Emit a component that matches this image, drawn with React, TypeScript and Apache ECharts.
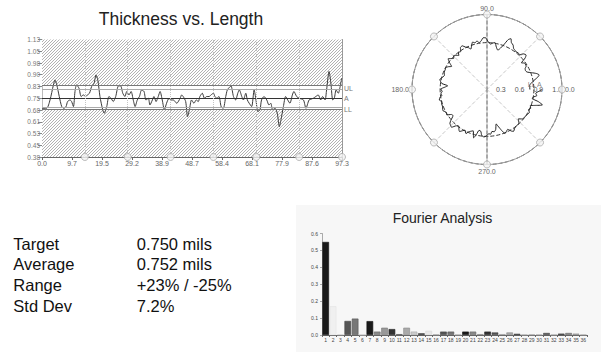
import React, { useEffect, useRef } from "react";
import * as echarts from "echarts";

const FONT = "'Liberation Sans', Arial, sans-serif";

// ---- Thickness vs. Length ----
const thickX = [
  0, 1.5, 2.6, 3.7, 4.2, 4.8, 5.6, 6.4, 7.1, 7.8, 8.3, 9.1, 9.6, 10.2, 10.7, 11.2, 12.0, 12.7, 13.4, 14.2,
  14.7, 15.4, 16.1, 16.9, 17.5, 18.1, 18.8, 19.7, 20.2, 21.0, 21.7, 22.4, 23.1, 23.9, 24.8, 25.5, 26.2, 26.9,
  27.5, 28.2, 28.9, 29.6, 30.2, 30.9, 31.6, 32.3, 33.1, 33.7, 34.5, 35.0, 35.8, 36.3, 37.0, 37.7, 38.3, 39.0,
  39.7, 40.4, 41.2, 41.8, 42.6, 43.7, 44.8, 45.3, 45.8, 46.6, 47.2, 47.8, 48.5, 49.3, 50.0, 50.7, 51.2, 52.0,
  52.7, 53.4, 54.2, 54.8, 55.6, 56.1, 56.7, 57.4, 58.1, 58.8, 59.6, 60.1, 60.8, 61.3, 62.1, 62.8, 63.5, 64.0,
  64.8, 65.3, 66.1, 66.6, 67.2, 68.0, 68.8, 69.4, 70.0, 70.7, 71.2, 72.0, 72.9, 73.6, 74.2, 74.8, 75.6, 76.3,
  77.0, 77.5, 78.3, 79.0, 79.7, 80.4, 81.2, 81.7, 82.6, 83.4, 84.8, 85.6, 86.6, 87.2, 88.0, 88.8, 89.6, 90.4,
  91.0, 91.8, 92.3, 93.1, 93.7, 94.3, 94.8, 95.4, 96.1, 96.7, 97.2,
];
const thickY = [
  0.686, 0.686, 0.739, 0.835, 0.867, 0.835, 0.761, 0.697, 0.686, 0.697, 0.729, 0.739, 0.729, 0.697, 0.793,
  0.835, 0.814, 0.761, 0.771, 0.761, 0.771, 0.782, 0.825, 0.846, 0.899, 0.867, 0.761, 0.676, 0.654, 0.697,
  0.761, 0.75, 0.729, 0.761, 0.829, 0.829, 0.782, 0.761, 0.793, 0.771, 0.793, 0.739, 0.697, 0.739, 0.761,
  0.803, 0.793, 0.739, 0.75, 0.707, 0.739, 0.761, 0.729, 0.761, 0.793, 0.739, 0.676, 0.718, 0.75, 0.739,
  0.739, 0.718, 0.75, 0.771, 0.761, 0.729, 0.633, 0.676, 0.739, 0.718, 0.739, 0.729, 0.761, 0.782, 0.75,
  0.761, 0.761, 0.771, 0.782, 0.761, 0.75, 0.761, 0.697, 0.686, 0.761, 0.803, 0.82, 0.829, 0.761, 0.739,
  0.782, 0.803, 0.761, 0.739, 0.782, 0.739, 0.718, 0.697, 0.803, 0.739, 0.665, 0.676, 0.739, 0.761, 0.739,
  0.707, 0.718, 0.676, 0.686, 0.654, 0.569, 0.612, 0.697, 0.761, 0.739, 0.718, 0.771, 0.793, 0.761, 0.75,
  0.739, 0.686, 0.739, 0.744, 0.75, 0.761, 0.771, 0.739, 0.761, 0.739, 0.803, 0.921, 0.846, 0.739, 0.75,
  0.803, 0.782, 0.825, 0.878,
];
const xTickLabels = ["0.0", "9.7", "19.5", "29.2", "38.9", "48.7", "58.4", "68.1", "77.9", "87.6", "97.3"];
const yTickLabels = ["0.38", "0.45", "0.53", "0.61", "0.68", "0.75", "0.83", "0.90", "0.98", "1.05", "1.13"];
const cursorX = [13.9, 27.8, 41.7, 55.6, 69.5, 83.4, 97.3];
const limitNames = ["", "UL", "A", "", "LL"];
const limitValues = [0.83, 0.81, 0.75, 0.69, 0.675];
const limitColors = ["#777", "#aaa", "#333", "#aaa", "#777"];

// ---- Polar ----
const radiusTickValues = [0.3, 0.6, 0.9, 1.2];
const radiusTickLabels = ["0.3", "0.6", "0.9", "1.1"];
const polarMarkerAngles = [0, 45, 90, 135, 180, 225, 270, 315];
const polarTextNames = ["LL", "A"];
const polarTextRadius = [0.72, 0.84];
const polarTextAngle = [6, 6];

// ---- Fourier ----
const fourierCats = [
  "1", "2", "3", "4", "5", "6", "7", "8", "9", "10", "11", "12", "13", "14", "15", "16", "17", "18",
  "19", "20", "21", "22", "23", "24", "25", "26", "27", "28", "29", "30", "31", "32", "33", "34", "35", "36",
];
const fourierValues = [
  0.55, 0.17, 0.003, 0.083, 0.097, 0.0, 0.082, 0.02, 0.043, 0.035, 0.005, 0.043, 0.02, 0.01, 0.025, 0.002,
  0.02, 0.02, 0.002, 0.02, 0.02, 0.005, 0.02, 0.015, 0.005, 0.015, 0.007, 0.002, 0.002, 0.002, 0.012, 0.002,
  0.008, 0.012, 0.008, 0.002,
];
const fourierColors = [
  "#1a1a1a", "#f0f0f0", "#dddddd", "#555555", "#777777", "#cccccc", "#1a1a1a", "#888888", "#999999",
  "#333333", "#666666", "#aaaaaa", "#cccccc", "#444444", "#e8e8e8", "#bbbbbb", "#555555", "#777777",
  "#cccccc", "#1a1a1a", "#888888", "#aaaaaa", "#333333", "#555555", "#bbbbbb", "#aaaaaa", "#444444",
  "#cccccc", "#bbbbbb", "#cccccc", "#555555", "#cccccc", "#444444", "#888888", "#aaaaaa", "#cccccc",
];
const fourierBorders = [
  "#111111", "#e4e4e4", "#cccccc", "#444444", "#555555", "#bbbbbb", "#111111", "#666666", "#777777",
  "#222222", "#555555", "#888888", "#aaaaaa", "#333333", "#d8d8d8", "#999999", "#444444", "#555555",
  "#aaaaaa", "#111111", "#666666", "#888888", "#222222", "#444444", "#999999", "#888888", "#333333",
  "#aaaaaa", "#999999", "#aaaaaa", "#444444", "#aaaaaa", "#333333", "#666666", "#888888", "#aaaaaa",
];

// ---- Stats ----
const statLabels = ["Target", "Average", "Range", "Std Dev"];
const statValues = ["0.750 mils", "0.752 mils", "+23% / -25%", "7.2%"];

function makeHatch() {
  const c = document.createElement("canvas");
  c.width = 3;
  c.height = 3;
  const ctx = c.getContext("2d")!;
  ctx.fillStyle = "#ffffff";
  ctx.fillRect(0, 0, 3, 3);
  ctx.fillStyle = "#b2b2b2";
  ctx.fillRect(0, 2, 1, 1);
  ctx.fillRect(1, 1, 1, 1);
  ctx.fillRect(2, 0, 1, 1);
  return c;
}

export default function App() {
  const ref = useRef<HTMLDivElement>(null);
  useEffect(() => {
    if (!ref.current) return;
    const chart = echarts.init(ref.current, undefined, { renderer: "svg" });
    const hatch: any = { image: makeHatch(), repeat: "repeat", imageWidth: 3, imageHeight: 3 };

    const angleSplitColors = [
      "rgba(0,0,0,0)", "#c8c8c8", "#777777", "#c8c8c8", "rgba(0,0,0,0)", "#c8c8c8", "#777777", "#c8c8c8",
    ];
    const radiusSplitColors: string[] = [];
    for (let i = 0; i <= 16; i++) {
      radiusSplitColors.push(i === 10 ? "#333333" : i === 16 ? "#555555" : "rgba(0,0,0,0)");
    }

    const lineData = thickX.map((x, i) => [x, thickY[i]]);
    const polarData = thickX.map((x, i) => [thickY[i], (x / 97.3) * 360]);

    const markLineData: any[] = limitValues.map((v, i) => ({
      yAxis: v,
      lineStyle: { color: limitColors[i], width: i === 2 ? 1.2 : 1, type: "solid" },
      label: {
        show: limitNames[i] !== "",
        formatter: limitNames[i],
        position: "end",
        color: "#777",
        fontSize: 7,
        distance: 2,
        fontFamily: FONT,
      },
    }));
    cursorX.slice(0, 6).forEach((x) => {
      markLineData.push({
        xAxis: x,
        lineStyle: { color: "#c4c4c4", width: 1, type: "dotted" },
        label: { show: false },
      });
    });

    const graphicEls: any[] = [
      {
        type: "rect",
        z: -1,
        shape: { x: 296, y: 205, width: 305, height: 147 },
        style: { fill: "#f7f7f7" },
      },
    ];
    statLabels.forEach((t, i) => {
      const y = 243.6 + i * 20.8;
      graphicEls.push({
        type: "text",
        x: 13.3,
        y,
        style: { text: t, font: `16.5px ${FONT}`, fill: "#111", verticalAlign: "middle" },
      });
      graphicEls.push({
        type: "text",
        x: 136.7,
        y,
        style: { text: statValues[i], font: `16.5px ${FONT}`, fill: "#111", verticalAlign: "middle" },
      });
    });

    const option: any = {
      animation: false,
      backgroundColor: "#ffffff",
      textStyle: { fontFamily: FONT },
      title: [
        {
          text: "Thickness vs. Length",
          left: 181,
          top: 10.2,
          textAlign: "center",
          padding: 0,
          textStyle: { fontSize: 17.5, fontWeight: "normal", color: "#222", fontFamily: FONT },
        },
        {
          text: "Fourier Analysis",
          left: 442.5,
          top: 211,
          textAlign: "center",
          padding: 0,
          textStyle: { fontSize: 14, fontWeight: "normal", color: "#222", fontFamily: FONT },
        },
      ],
      graphic: graphicEls,
      grid: [
        { left: 42, top: 39.5, width: 300, height: 117.5 },
        { left: 322, top: 233.5, width: 265, height: 101.5 },
      ],
      xAxis: [
        {
          gridIndex: 0,
          type: "value",
          min: 0,
          max: 97.3,
          interval: 9.73,
          axisLine: { show: true, lineStyle: { color: "#666" } },
          axisTick: { show: true, length: 3, lineStyle: { color: "#666" } },
          axisLabel: {
            fontSize: 7,
            color: "#666",
            margin: 3,
            fontFamily: FONT,
            formatter: (v: number) => xTickLabels[Math.round(v / 9.73)] ?? "",
          },
          splitLine: { show: false },
        },
        {
          gridIndex: 1,
          type: "category",
          data: fourierCats,
          axisLine: { show: true, lineStyle: { color: "#666" } },
          axisTick: { show: true, length: 2, lineStyle: { color: "#666" } },
          axisLabel: { interval: 0, fontSize: 5, color: "#444", margin: 2, fontFamily: FONT },
        },
      ],
      yAxis: [
        {
          gridIndex: 0,
          type: "value",
          min: 0.375,
          max: 1.125,
          interval: 0.075,
          axisLine: { show: true, lineStyle: { color: "#bbb" } },
          axisTick: { show: true, length: 4, lineStyle: { color: "#888" } },
          axisLabel: {
            fontSize: 6.5,
            color: "#777",
            margin: 2,
            fontFamily: FONT,
            formatter: (v: number) => yTickLabels[Math.round((v - 0.375) / 0.075)] ?? "",
          },
          splitLine: { show: false },
        },
        {
          gridIndex: 0,
          type: "value",
          position: "right",
          min: 0.375,
          max: 1.125,
          interval: 0.075,
          axisLine: { show: true, lineStyle: { color: "#999" } },
          axisTick: { show: false },
          axisLabel: { show: false },
          splitLine: { show: false },
        },
        {
          gridIndex: 1,
          type: "value",
          min: 0,
          max: 0.6,
          interval: 0.1,
          axisLine: { show: true, lineStyle: { color: "#aaa" } },
          axisTick: { show: true, length: 2, lineStyle: { color: "#aaa" } },
          axisLabel: {
            fontSize: 5,
            color: "#444",
            margin: 4,
            fontFamily: FONT,
            formatter: (v: number) => v.toFixed(1),
          },
          splitLine: { show: false },
        },
      ],
      polar: { center: [487, 89.5], radius: 75 },
      angleAxis: {
        type: "value",
        min: 0,
        max: 360,
        interval: 45,
        startAngle: 0,
        clockwise: false,
        axisLine: { show: true, lineStyle: { color: "#999", width: 1 } },
        axisTick: { show: false },
        axisLabel: {
          fontSize: 7,
          color: "#666",
          margin: 3,
          fontFamily: FONT,
          formatter: (v: number) => (v % 90 === 0 && v < 360 ? v.toFixed(1) : ""),
        },
        splitLine: { show: true, lineStyle: { color: angleSplitColors, type: "dashed", width: 1 } },
      },
      radiusAxis: {
        type: "value",
        min: 0,
        max: 1.2,
        interval: 0.075,
        axisLine: { show: false },
        axisTick: { show: false },
        axisLabel: {
          fontSize: 7,
          color: "#555",
          margin: 0,
          align: "right",
          verticalAlign: "middle",
          fontFamily: FONT,
          formatter: (v: number) => {
            const idx = radiusTickValues.findIndex((t) => Math.abs(t - v) < 1e-6);
            return idx >= 0 ? radiusTickLabels[idx] : "";
          },
        },
        splitLine: { show: true, lineStyle: { color: radiusSplitColors, type: "dashed", width: 1 } },
      },
      series: [
        {
          type: "line",
          xAxisIndex: 0,
          yAxisIndex: 0,
          data: lineData,
          symbol: "none",
          smooth: 0.25,
          lineStyle: { color: "#3a3a3a", width: 1 },
          z: 3,
          markArea: {
            silent: true,
            itemStyle: { color: hatch, opacity: 1 },
            data: [
              [{ yAxis: 0.83 }, { yAxis: 1.125 }],
              [{ yAxis: 0.375 }, { yAxis: 0.675 }],
            ],
          },
          markLine: { silent: true, symbol: "none", data: markLineData },
        },
        {
          type: "scatter",
          xAxisIndex: 0,
          yAxisIndex: 0,
          data: cursorX.map((x) => [x, 0.375]),
          symbol: "circle",
          symbolSize: 7,
          clip: false,
          itemStyle: { color: "#f2f2f2", borderColor: "#aaa", borderWidth: 1 },
          z: 6,
        },
        {
          type: "line",
          coordinateSystem: "polar",
          data: [
            [1.2, 90],
            [1.2, 270],
          ],
          symbol: "none",
          lineStyle: { color: "#777", width: 1, type: "dotted" },
          z: 2,
        },
        {
          type: "line",
          coordinateSystem: "polar",
          data: polarData,
          symbol: "none",
          smooth: 0.2,
          lineStyle: { color: "#222", width: 1 },
          z: 4,
        },
        {
          type: "scatter",
          coordinateSystem: "polar",
          data: polarMarkerAngles.map((a) => [1.2, a]),
          symbol: "circle",
          symbolSize: 7,
          itemStyle: { color: "#f2f2f2", borderColor: "#aaa", borderWidth: 1 },
          z: 5,
        },
        {
          type: "scatter",
          coordinateSystem: "polar",
          data: polarTextNames.map((n, i) => ({ name: n, value: [polarTextRadius[i], polarTextAngle[i]] })),
          symbolSize: 0,
          label: {
            show: true,
            formatter: "{b}",
            fontSize: 7,
            color: "#666",
            position: "inside",
            fontFamily: FONT,
          },
          z: 6,
        },
        {
          type: "bar",
          xAxisIndex: 1,
          yAxisIndex: 2,
          data: fourierValues.map((v, i) => ({
            value: v,
            itemStyle: { color: fourierColors[i], borderColor: fourierBorders[i], borderWidth: 0.6 },
          })),
          barCategoryGap: "10%",
        },
      ],
    };
    chart.setOption(option);
    return () => chart.dispose();
  }, []);

  return (
    <div
      ref={ref}
      style={{ position: "absolute", left: 0, top: 0, width: 607, height: 362, background: "#fff" }}
    />
  );
}
